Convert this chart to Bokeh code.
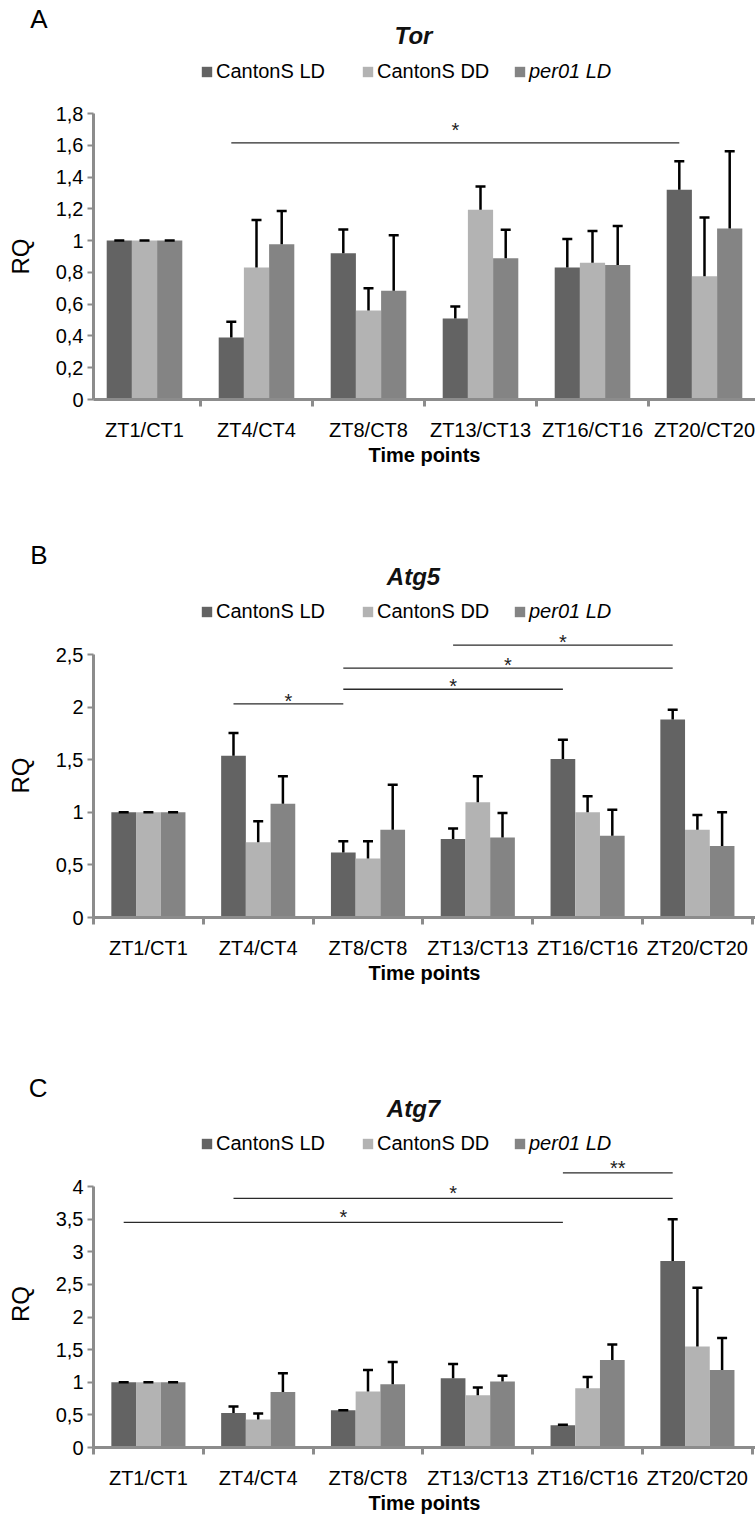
import numpy as np
from bokeh.plotting import figure
from bokeh.models import (Range1d, FixedTicker, CustomJSTickFormatter, Label, Legend,
                          LegendItem, Whisker, TeeHead, ColumnDataSource)
from bokeh.layouts import column
from bokeh.core.properties import value
from bokeh.embed import file_html
from bokeh.resources import INLINE

# ---------------- data ----------------
categories = ["ZT1/CT1", "ZT4/CT4", "ZT8/CT8", "ZT13/CT13", "ZT16/CT16", "ZT20/CT20"]
series_names = ["CantonS LD", "CantonS DD", "per01 LD"]

tor_ld = [1.0, 0.39, 0.92, 0.51, 0.83, 1.32]
tor_ld_err = [0.0, 0.10, 0.15, 0.075, 0.18, 0.18]
tor_dd = [1.0, 0.83, 0.56, 1.195, 0.86, 0.775]
tor_dd_err = [0.0, 0.30, 0.14, 0.145, 0.20, 0.37]
tor_per = [1.0, 0.977, 0.684, 0.889, 0.847, 1.077]
tor_per_err = [0.0, 0.21, 0.35, 0.18, 0.245, 0.486]
tor_yticks = [0, 0.2, 0.4, 0.6, 0.8, 1, 1.2, 1.4, 1.6, 1.8]
tor_sig_from = [1]
tor_sig_to = [5]
tor_sig_y = [1.615]
tor_sig_text = ["*"]

atg5_ld = [1.0, 1.538, 0.617, 0.747, 1.506, 1.883]
atg5_ld_err = [0.0, 0.215, 0.108, 0.10, 0.184, 0.092]
atg5_dd = [1.0, 0.715, 0.56, 1.095, 1.0, 0.835]
atg5_dd_err = [0.0, 0.20, 0.165, 0.247, 0.152, 0.14]
atg5_per = [1.0, 1.082, 0.835, 0.76, 0.778, 0.68]
atg5_per_err = [0.0, 0.26, 0.428, 0.234, 0.247, 0.32]
atg5_yticks = [0, 0.5, 1, 1.5, 2, 2.5]
atg5_sig_from = [1, 2, 2, 3]
atg5_sig_to = [2, 4, 5, 5]
atg5_sig_y = [2.03, 2.17, 2.37, 2.59]
atg5_sig_text = ["*", "*", "*", "*"]

atg7_ld = [1.0, 0.53, 0.57, 1.06, 0.34, 2.86]
atg7_ld_err = [0.0, 0.10, 0.0, 0.22, 0.01, 0.64]
atg7_dd = [1.0, 0.43, 0.86, 0.80, 0.91, 1.55]
atg7_dd_err = [0.0, 0.09, 0.33, 0.12, 0.17, 0.90]
atg7_per = [1.0, 0.85, 0.97, 1.01, 1.34, 1.19]
atg7_per_err = [0.0, 0.29, 0.34, 0.09, 0.24, 0.49]
atg7_yticks = [0, 0.5, 1, 1.5, 2, 2.5, 3, 3.5, 4]
atg7_sig_from = [0, 1, 4]
atg7_sig_to = [4, 5, 5]
atg7_sig_y = [3.45, 3.82, 4.21]
atg7_sig_text = ["*", "*", "**"]

# ---------------- style ----------------
W = 755
FRAME_LEFT = 93          # common left edge of all plot frames (column aligns them)
OFFS = [-0.225, 0.0, 0.225]
BAR_W = 0.225
COLORS = ["#636363", "#b3b3b3", "#848484"]
FONT = "Liberation Sans"
AXIS_COLOR = "#8c8c8c"


def make_header(letter, title, h, letter_y, title_y, legend_y):
    """Header strip: panel letter (as a y tick label), italic gene title, legend."""
    p = figure(width=W, height=h, x_range=Range1d(0, 1), y_range=Range1d(0, h),
               x_axis_location=None, y_axis_location="left", output_backend="svg",
               toolbar_location=None, min_border=0, min_border_left=FRAME_LEFT)
    p.outline_line_color = None
    p.grid.visible = False
    ya = p.yaxis[0]
    tick = h - letter_y
    ya.ticker = FixedTicker(ticks=[tick])
    ya.major_label_overrides = {tick: letter}
    ya.axis_line_color = None
    ya.major_tick_line_color = None
    ya.minor_tick_line_color = None
    ya.major_tick_out = 0
    ya.major_tick_in = 0
    ya.major_label_standoff = 46
    ya.major_label_text_font = FONT
    ya.major_label_text_font_size = "26px"
    ya.major_label_text_color = "black"

    p.add_layout(Label(x=413 - FRAME_LEFT, y=h - title_y, x_units="screen", y_units="screen",
                       text=title, text_font=FONT, text_font_size="24px",
                       text_font_style="bold italic",
                       text_baseline="middle", text_align="center", text_color="#111111"))

    leg_x = [200, 361, 513]
    styles = ["normal", "normal", "italic"]
    for k in range(3):
        # zero-height key renderer, only used to draw the legend swatch
        r = p.vbar(x=[0], bottom=[0], top=[0], width=0.0, fill_color=COLORS[k], line_color=None)
        leg = Legend(items=[LegendItem(label=series_names[k], renderers=[r])],
                     location=(leg_x[k] - FRAME_LEFT, h - (legend_y + 10)),
                     orientation="horizontal", glyph_width=13, glyph_height=13,
                     label_standoff=3, padding=0, margin=0, spacing=0,
                     label_height=20, label_text_font=FONT, label_text_font_size="20px",
                     label_text_font_style=styles[k], label_text_color="black",
                     border_line_alpha=0, background_fill_alpha=0)
        p.add_layout(leg, "center")
    return p


def make_chart(vals, errs, yticks, y_end, sig, g):
    frame_w = W - FRAME_LEFT
    x_start = -0.5 + g["shift"] / g["ppc"]
    x_end = x_start + frame_w / g["ppc"]
    p = figure(width=W, height=g["h"], x_range=Range1d(x_start, x_end),
               y_range=Range1d(0, y_end),
               output_backend="svg", toolbar_location=None,
               min_border_left=FRAME_LEFT, min_border_right=0,
               min_border_top=g["top"], min_border_bottom=g["bottom"])
    p.outline_line_color = None
    p.grid.visible = False

    x = np.arange(len(categories))
    for k in range(3):
        v = np.array(vals[k], dtype=float)
        e = np.array(errs[k], dtype=float)
        src = ColumnDataSource(dict(x=x + OFFS[k], top=v, upper=v + e))
        p.vbar(x="x", top="top", width=BAR_W, source=src,
               fill_color=COLORS[k], line_color=None)
        w = Whisker(source=src, base="x", lower="top", upper="upper", dimension="height",
                    line_color="black", line_width=2.5, lower_head=None,
                    upper_head=TeeHead(size=10, line_color="black", line_width=2.5),
                    level="overlay")
        p.add_layout(w)

    # significance brackets
    s_from, s_to, s_y, s_text = sig
    x0 = [a + OFFS[0] for a in s_from]
    x1 = [b + OFFS[0] for b in s_to]
    p.segment(x0=x0, y0=s_y, x1=x1, y1=s_y, line_color="#2a2a2a", line_width=1.3)
    mids = [(a + b) / 2 for a, b in zip(x0, x1)]
    p.text(x=mids, y=s_y, text=s_text, text_align="center", text_baseline="bottom",
           y_offset=g["star_dy"], text_font=value(FONT), text_font_size="20px",
           text_color="#222222")

    # x axis
    xa = p.xaxis[0]
    xa.ticker = FixedTicker(ticks=list(range(len(categories))),
                            minor_ticks=[i - 0.5 for i in range(len(categories) + 1)])
    xa.major_label_overrides = {i: c for i, c in enumerate(categories)}
    xa.axis_line_color = AXIS_COLOR
    xa.axis_line_width = 3
    xa.major_tick_line_color = None
    xa.major_tick_out = 0
    xa.major_tick_in = 0
    xa.minor_tick_line_color = AXIS_COLOR
    xa.minor_tick_line_width = 3
    xa.minor_tick_out = 7
    xa.minor_tick_in = 0
    xa.major_label_standoff = 12
    xa.major_label_text_font = FONT
    xa.major_label_text_font_size = "20px"
    xa.major_label_text_color = "black"
    xa.axis_label = "Time points"
    xa.axis_label_text_font = FONT
    xa.axis_label_text_font_size = "20px"
    xa.axis_label_text_font_style = "bold"
    xa.axis_label_text_color = "black"
    xa.axis_label_standoff = 0

    # y axis
    ya = p.yaxis[0]
    ya.ticker = FixedTicker(ticks=yticks)
    ya.bounds = (0, yticks[-1])
    ya.formatter = CustomJSTickFormatter(
        code="return String(Math.round(tick*10)/10).replace('.', ',');")
    ya.axis_line_color = AXIS_COLOR
    ya.axis_line_width = 3
    ya.major_tick_line_color = AXIS_COLOR
    ya.major_tick_line_width = 2
    ya.major_tick_out = 6
    ya.major_tick_in = 0
    ya.minor_tick_line_color = None
    ya.major_label_standoff = 4
    ya.major_label_text_font = FONT
    ya.major_label_text_font_size = "20px"
    ya.major_label_text_color = "black"
    ya.axis_label = "RQ"
    ya.axis_label_text_font = FONT
    ya.axis_label_text_font_size = "24px"
    ya.axis_label_text_font_style = "normal"
    ya.axis_label_text_color = "black"
    ya.axis_label_standoff = 19
    return p


# ---- panel A (page y 0..480)
headA = make_header("A", "Tor", 100, letter_y=18, title_y=35, legend_y=73)
chartA = make_chart([tor_ld, tor_dd, tor_per], [tor_ld_err, tor_dd_err, tor_per_err],
                    tor_yticks, 1.8, (tor_sig_from, tor_sig_to, tor_sig_y, tor_sig_text),
                    dict(h=380, top=13, bottom=81, ppc=112.0, shift=5, star_dy=-2))

# ---- panel B (page y 480..1010)
headB = make_header("B", "Atg5", 150, letter_y=554 - 480, title_y=576 - 480,
                    legend_y=613 - 480)
chartB = make_chart([atg5_ld, atg5_dd, atg5_per], [atg5_ld_err, atg5_dd_err, atg5_per_err],
                    atg5_yticks, 2.7, (atg5_sig_from, atg5_sig_to, atg5_sig_y, atg5_sig_text),
                    dict(h=380, top=3, bottom=93, ppc=109.8, shift=0, star_dy=8))

# ---- panel C (page y 1010..1519)
headC = make_header("C", "Atg7", 147, letter_y=1087 - 1010, title_y=1108 - 1010,
                    legend_y=1145 - 1010)
chartC = make_chart([atg7_ld, atg7_dd, atg7_per], [atg7_ld_err, atg7_dd_err, atg7_per_err],
                    atg7_yticks, 4.4, (atg7_sig_from, atg7_sig_to, atg7_sig_y, atg7_sig_text),
                    dict(h=362, top=3, bottom=72, ppc=109.8, shift=0, star_dy=6))

layout = column(headA, chartA, headB, chartB, headC, chartC, spacing=0)
open("out.html", "w").write(file_html(layout, INLINE))
